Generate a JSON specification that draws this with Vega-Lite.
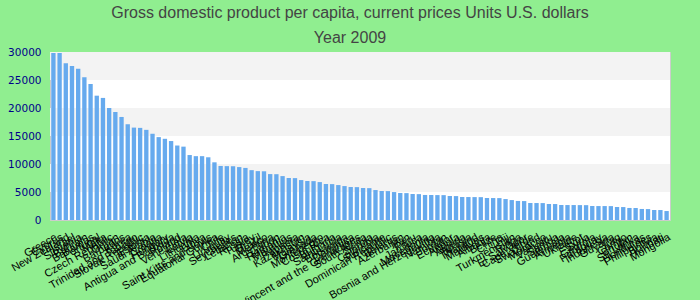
{
  "$schema": "https://vega.github.io/schema/vega-lite/v6.json",
  "width": 620,
  "height": 168,
  "autosize": {"type": "none"},
  "padding": {"left": 50, "top": 52, "right": 30, "bottom": 80},
  "background": "#90ee90",
  "title": {
    "text": ["Gross domestic product per capita, current prices Units U.S. dollars", "Year 2009"],
    "font": "Liberation Sans",
    "fontSize": 16,
    "fontWeight": "normal",
    "color": "#444444",
    "lineHeight": 25,
    "offset": 1,
    "dx": -10
  },
  "datasets": {
    "bands": [
      {"lo": 5000, "hi": 10000},
      {"lo": 15000, "hi": 20000},
      {"lo": 25000, "hi": 30000}
    ],
    "gdp": [
      {"country": "Greece", "value": 29800},
      {"country": "Cyprus", "value": 29800},
      {"country": "New Zealand", "value": 28000},
      {"country": "Israel", "value": 27500},
      {"country": "Slovenia", "value": 27000},
      {"country": "Bahrain", "value": 25500},
      {"country": "Bahamas", "value": 24300},
      {"country": "Portugal", "value": 22200},
      {"country": "Malta", "value": 21800},
      {"country": "Czech Republic", "value": 20000},
      {"country": "Oman", "value": 19300},
      {"country": "Barbados", "value": 18400},
      {"country": "Korea", "value": 17100},
      {"country": "Trinidad and Tobago", "value": 16500},
      {"country": "Slovak Republic", "value": 16450},
      {"country": "Estonia", "value": 16100},
      {"country": "Saudi Arabia", "value": 15400},
      {"country": "Croatia", "value": 14800},
      {"country": "Hungary", "value": 14500},
      {"country": "Antigua and Barbuda", "value": 14100},
      {"country": "Poland", "value": 13300},
      {"country": "Venezuela", "value": 13100},
      {"country": "Latvia", "value": 11600},
      {"country": "Lithuania", "value": 11400},
      {"country": "Libya", "value": 11400},
      {"country": "Saint Kitts and Nevis", "value": 11200},
      {"country": "Equatorial Guinea", "value": 10300},
      {"country": "Chile", "value": 9650},
      {"country": "Uruguay", "value": 9620},
      {"country": "Seychelles", "value": 9600},
      {"country": "Lebanon", "value": 9450},
      {"country": "Russia", "value": 9300},
      {"country": "Turkey", "value": 8900},
      {"country": "Brazil", "value": 8730},
      {"country": "Mexico", "value": 8700},
      {"country": "Argentina", "value": 8200},
      {"country": "Gabon", "value": 8180},
      {"country": "Romania", "value": 7840},
      {"country": "Mauritius", "value": 7500},
      {"country": "Panama", "value": 7480},
      {"country": "Kazakhstan", "value": 7130},
      {"country": "Malaysia", "value": 6960},
      {"country": "Grenada", "value": 6940},
      {"country": "Montenegro", "value": 6770},
      {"country": "Costa Rica", "value": 6430},
      {"country": "Bulgaria", "value": 6410},
      {"country": "Saint Lucia", "value": 6240},
      {"country": "Botswana", "value": 6060},
      {"country": "Dominica", "value": 5890},
      {"country": "Saint Vincent and the Grenadines", "value": 5870},
      {"country": "South Africa", "value": 5710},
      {"country": "Serbia", "value": 5690},
      {"country": "Colombia", "value": 5350},
      {"country": "Suriname", "value": 5180},
      {"country": "Dominican Republic", "value": 5160},
      {"country": "Belarus", "value": 4990},
      {"country": "Azerbaijan", "value": 4820},
      {"country": "Iran", "value": 4800},
      {"country": "Peru", "value": 4640},
      {"country": "Jamaica", "value": 4620},
      {"country": "Macedonia", "value": 4470},
      {"country": "Bosnia and Herzegovina", "value": 4460},
      {"country": "Namibia", "value": 4450},
      {"country": "Jordan", "value": 4440},
      {"country": "Ecuador", "value": 4290},
      {"country": "Angola", "value": 4270},
      {"country": "Algeria", "value": 4110},
      {"country": "Tunisia", "value": 4100},
      {"country": "Thailand", "value": 4090},
      {"country": "Maldives", "value": 4080},
      {"country": "Albania", "value": 3930},
      {"country": "Belize", "value": 3920},
      {"country": "China", "value": 3910},
      {"country": "Fiji", "value": 3740},
      {"country": "Turkmenistan", "value": 3560},
      {"country": "Tonga", "value": 3400},
      {"country": "El Salvador", "value": 3380},
      {"country": "Cape Verde", "value": 3040},
      {"country": "Swaziland", "value": 3030},
      {"country": "Morocco", "value": 3020},
      {"country": "Vanuatu", "value": 2860},
      {"country": "Samoa", "value": 2850},
      {"country": "Guatemala", "value": 2680},
      {"country": "Armenia", "value": 2670},
      {"country": "Ukraine", "value": 2670},
      {"country": "Egypt", "value": 2660},
      {"country": "Syria", "value": 2650},
      {"country": "Georgia", "value": 2500},
      {"country": "Paraguay", "value": 2490},
      {"country": "Indonesia", "value": 2490},
      {"country": "Guyana", "value": 2480},
      {"country": "Iraq", "value": 2320},
      {"country": "Congo", "value": 2310},
      {"country": "Bhutan", "value": 2150},
      {"country": "Sri Lanka", "value": 2140},
      {"country": "Honduras", "value": 1970},
      {"country": "Philippines", "value": 1950},
      {"country": "Bolivia", "value": 1790},
      {"country": "Kiribati", "value": 1780},
      {"country": "Mongolia", "value": 1600}
    ]
  },
  "layer": [
    {
      "data": {"name": "bands"},
      "mark": {"type": "rect", "color": "#f3f3f3"},
      "encoding": {
        "y": {"field": "lo", "type": "quantitative", "title": null, "scale": {"domain": [0, 30000]}},
        "y2": {"field": "hi"}
      }
    },
    {
      "data": {"name": "gdp"},
      "mark": {"type": "bar", "color": "#66aaee"},
      "encoding": {
        "x": {
          "field": "country",
          "type": "nominal",
          "sort": null,
          "title": null,
          "scale": {"paddingInner": 0.3, "paddingOuter": 0.2}
        },
        "y": {"field": "value", "type": "quantitative", "title": null, "scale": {"domain": [0, 30000]}}
      }
    }
  ],
  "config": {
    "view": {"fill": "white", "stroke": "#cccccc"},
    "axisY": {
      "values": [0, 5000, 10000, 15000, 20000, 25000, 30000],
      "format": "d",
      "labelColor": "#00008b",
      "labelFont": "DejaVu Sans",
      "labelFontSize": 10.5,
      "ticks": false,
      "domain": false,
      "grid": false,
      "labelPadding": 9
    },
    "axisX": {
      "labelAngle": -30,
      "labelColor": "#000000",
      "labelFont": "Liberation Sans",
      "labelFontSize": 11,
      "ticks": false,
      "domain": false,
      "grid": false,
      "labelOverlap": false,
      "labelLimit": 0,
      "labelPadding": 11
    }
  }
}
